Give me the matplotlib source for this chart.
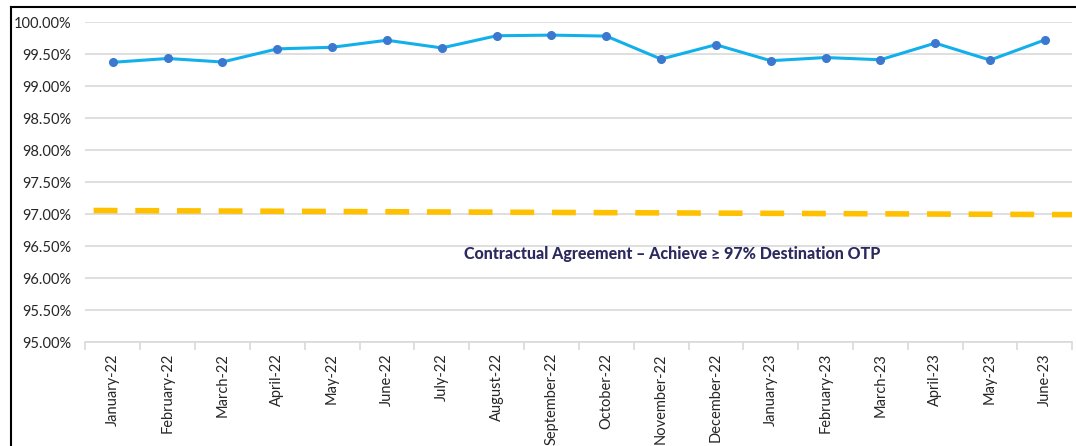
import numpy as np
import matplotlib.pyplot as plt
from matplotlib.lines import Line2D
from matplotlib.ticker import FuncFormatter, MultipleLocator

# Monatliche Destination-OTP-Werte in Prozent
months = ["January-22", "February-22", "March-22", "April-22", "May-22", "June-22",
          "July-22", "August-22", "September-22", "October-22", "November-22",
          "December-22", "January-23", "February-23", "March-23", "April-23",
          "May-23", "June-23"]
otp = [99.37, 99.43, 99.375, 99.58, 99.605, 99.715, 99.595, 99.785, 99.795,
       99.78, 99.42, 99.645, 99.395, 99.445, 99.41, 99.67, 99.405, 99.72]

# Zielvorgabe (leicht geneigte Linie knapp um 97 %)
target_x = [-0.35, 17.5]
target_y = [97.055, 96.99]

plt.rcParams["font.family"] = ["Lato", "DejaVu Sans"]

fig = plt.figure(figsize=(10.76, 4.46), dpi=100)
ax = fig.add_axes([85.4 / 1076, 1 - 342 / 446, (1072.3 - 85.4) / 1076, 320 / 446])

xs = np.arange(len(months))
grid_col = "#d9d9d9"

# Ziel-Linie (gestrichelt, gold)
ax.plot(target_x, target_y, color="#ffc000", lw=4, dashes=(4.3, 3.2),
        solid_capstyle="butt", dash_capstyle="butt", zorder=3)

# OTP-Kurve mit Markern
ax.plot(xs, otp, color="#12b0ea", lw=2.2, marker="o", markersize=5.5,
        markerfacecolor="#3b78d0", markeredgecolor="#3b78d0", zorder=4)

ax.set_xlim(-0.5, len(months) - 0.5)
ax.set_ylim(95, 100)
ax.yaxis.set_major_locator(MultipleLocator(0.5))
ax.yaxis.set_major_formatter(FuncFormatter(lambda v, p: f"{v:.2f}%"))
ax.grid(axis="y", color=grid_col, lw=1.2)
ax.set_axisbelow(True)

# x-Achse: Striche an Kategoriegrenzen, Beschriftungen mittig
ax.set_xticks(np.arange(-0.5, len(months), 1.0))
ax.set_xticklabels([])
ax.set_xticks(xs, minor=True)
ax.set_xticklabels(months, minor=True, rotation=90, fontsize=10.5, color="#262626")
ax.tick_params(axis="x", which="major", length=6, color=grid_col, width=1.2)
ax.tick_params(axis="x", which="minor", length=0, pad=8)
ax.tick_params(axis="y", length=0, pad=10, labelsize=10.5, labelcolor="#262626")

for side in ["top", "right", "left"]:
    ax.spines[side].set_visible(False)
ax.spines["bottom"].set_color(grid_col)
ax.spines["bottom"].set_linewidth(1.2)

ax.text(10.2, 96.37, "Contractual Agreement \u2013 Achieve \u2265 97% Destination OTP",
        ha="center", va="center", fontsize=11.5, fontweight="black", color="#2b2a5e")

# Rahmen oben und links
fig.add_artist(Line2D([11 / 1076, 11 / 1076], [0, 1 - 7 / 446], color="black", lw=1.5))
fig.add_artist(Line2D([11 / 1076, 1], [1 - 7 / 446, 1 - 7 / 446], color="black", lw=1.5))

plt.savefig("out.png", dpi=100)
plt.close()
